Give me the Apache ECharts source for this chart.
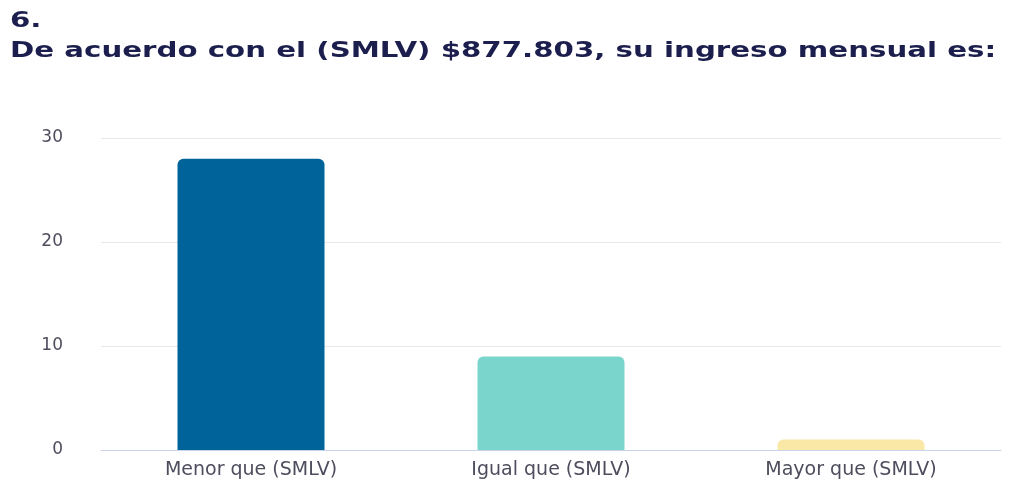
<!DOCTYPE html>
<html>
<head>
<meta charset="utf-8">
<script src="https://cdn.jsdelivr.net/npm/echarts@6/dist/echarts.min.js"></script>
<style>
  html, body { margin: 0; padding: 0; background: #fff; }
  #chart { width: 1010px; height: 483px; }
</style>
</head>
<body>
<div id="chart"></div>
<script>
const titleText = '6.\nDe acuerdo con el (SMLV) $877.803, su ingreso mensual es:'
const categories = ['Menor que (SMLV)', 'Igual que (SMLV)', 'Mayor que (SMLV)']
const values = [28, 9, 1]
const barColors = ['#00639a', '#7ad5cc', '#f9e8a6']
const yTicks = [0, 10, 20, 30]

const myChart = echarts.init(document.getElementById('chart'))

let option = {
  animation: false,
  // title drawn as a graphic text so it can be widened like the original
  graphic: [{
    type: 'text',
    x: 10,
    y: 6,
    scaleX: 1.33,
    style: {
      text: titleText,
      fontFamily: 'DejaVu Sans',
      fontWeight: 'bold',
      fontSize: 22,
      lineHeight: 30,
      fill: '#1c1f4d'
    }
  }],
  grid: {
    left: 101,
    right: 9,
    top: 138,
    bottom: 33,
    containLabel: false
  },
  xAxis: {
    type: 'category',
    data: categories,
    axisLine: { lineStyle: { color: '#c9d3ea', width: 1 } },
    axisTick: { show: false },
    axisLabel: {
      fontFamily: 'DejaVu Sans',
      fontSize: 19,
      color: '#4d4d5e',
      margin: 11
    }
  },
  yAxis: {
    type: 'value',
    min: yTicks[0],
    max: yTicks[yTicks.length - 1],
    interval: 10,
    axisLine: { show: false },
    axisTick: { show: false },
    splitLine: { lineStyle: { color: '#e8e8e8' } },
    axisLabel: {
      fontFamily: 'DejaVu Sans',
      fontSize: 17,
      color: '#4d4d5e',
      margin: 38
    }
  },
  series: [{
    type: 'bar',
    barWidth: '49%',
    data: values.map((v, i) => ({
      value: v,
      itemStyle: { color: barColors[i], borderRadius: [6, 6, 0, 0] }
    }))
  }]
}

myChart.setOption(option)
window.addEventListener('resize', () => myChart.resize())
</script>
</body>
</html>
